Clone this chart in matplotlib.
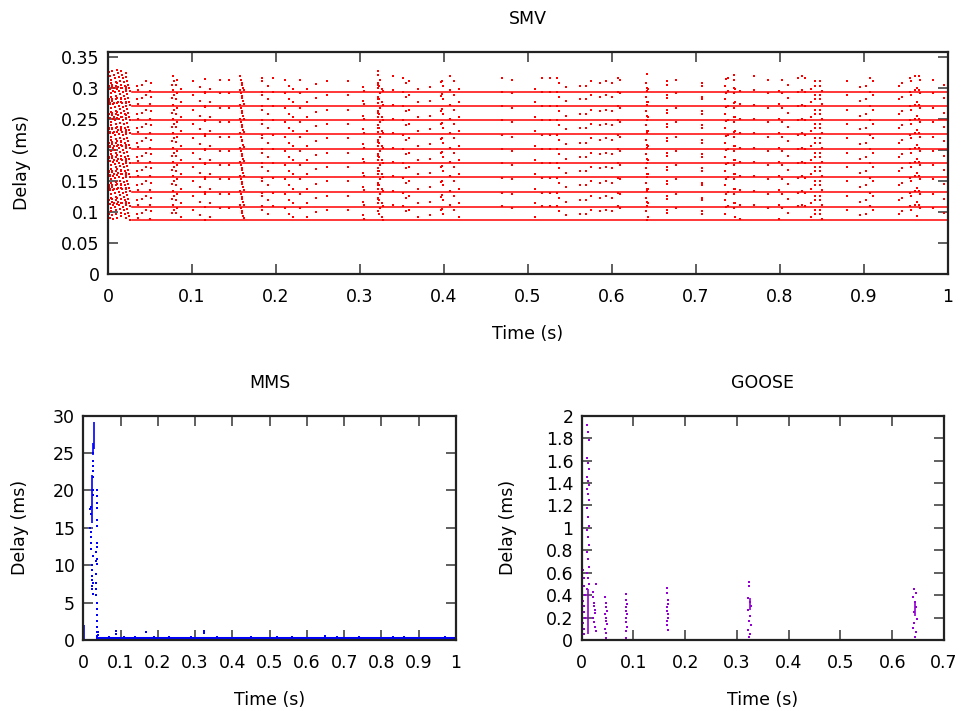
import matplotlib
matplotlib.use("Agg")
import matplotlib.pyplot as plt

plt.rcParams['font.family'] = ['DejaVu Sans']
plt.rcParams['font.size'] = 12.5

# ---- SMV: 10 streams, each with a base delay level ----
smv_levels = [0.087, 0.109, 0.133, 0.156, 0.179, 0.202, 0.226, 0.248, 0.272, 0.294]
smv_line_start = 0.028
smv_line_end = 1.0

# start-up burst, offsets above each stream level
smv_burst_t = [0.000, 0.000, 0.001, 0.002,
               0.001, 0.002, 0.003, 0.004, 0.005, 0.006,
               0.005, 0.007, 0.008, 0.009, 0.010, 0.011,
               0.011, 0.012, 0.013, 0.014, 0.015, 0.016,
               0.016, 0.017, 0.018, 0.019, 0.020, 0.021,
               0.021, 0.022, 0.023, 0.024, 0.025, 0.026]
smv_burst_dy = [0.005, 0.015, 0.010, 0.004,
                0.032, 0.026, 0.020, 0.014, 0.008, 0.002,
                0.034, 0.028, 0.022, 0.016, 0.010, 0.004,
                0.036, 0.030, 0.024, 0.018, 0.012, 0.006,
                0.034, 0.028, 0.022, 0.016, 0.010, 0.004,
                0.030, 0.024, 0.018, 0.012, 0.006, 0.001]

# later delay events, same pattern on every stream
smv_event_t = [0.034, 0.036, 0.041, 0.045, 0.051, 0.050, 0.077, 0.076, 0.079, 0.082,
               0.081, 0.087, 0.101, 0.110, 0.115, 0.116, 0.121, 0.133, 0.144, 0.157,
               0.158, 0.159, 0.160, 0.161, 0.162, 0.183, 0.183, 0.191, 0.197, 0.211,
               0.215, 0.220, 0.228, 0.237, 0.248, 0.261, 0.286, 0.304, 0.305, 0.322,
               0.322, 0.324, 0.321, 0.323, 0.326, 0.327, 0.339,
               0.351, 0.355, 0.358, 0.369, 0.383, 0.396, 0.397, 0.399, 0.407, 0.412,
               0.418, 0.469, 0.481, 0.508, 0.517, 0.526, 0.535, 0.537, 0.545, 0.562,
               0.569, 0.575, 0.586, 0.593, 0.600, 0.607, 0.609, 0.642, 0.641, 0.643,
               0.642, 0.666, 0.666, 0.676,
               0.707, 0.707, 0.734, 0.736, 0.738, 0.745, 0.745, 0.746, 0.752, 0.769,
               0.786, 0.799, 0.802, 0.809, 0.821, 0.826, 0.830, 0.837, 0.842, 0.842,
               0.847, 0.847, 0.850, 0.880, 0.895, 0.902, 0.907, 0.911, 0.942, 0.945,
               0.955, 0.956, 0.961, 0.963, 0.966, 0.967, 0.982, 0.995]
smv_event_dy = [0.010, 0.003, 0.012, 0.017, 0.0145, 0.002, 0.025, 0.012, 0.017, 0.020,
                0.011, 0.005, 0.017, 0.0075, 0.021, 0.000, 0.005, 0.020, 0.020, 0.025,
                0.020, 0.015, 0.012, 0.007, 0.003, 0.0225, 0.017, 0.010, 0.0225, 0.020,
                0.010, 0.005, 0.020, 0.005, 0.013, 0.017, 0.017, 0.0075, 0.002, 0.034,
                0.028, 0.020, 0.0145, 0.010, 0.005, 0.001, 0.025,
                0.0225, 0.0145, 0.017, 0.005, 0.0075, 0.016, 0.018, 0.010, 0.025, 0.017,
                0.005, 0.0225, 0.020, 0.005, 0.0225, 0.0225, 0.0225, 0.0145, 0.0075, 0.010,
                0.010, 0.017, 0.0145, 0.017, 0.0145, 0.0225, 0.020, 0.029, 0.0145, 0.005,
                0.001, 0.017, 0.012, 0.020,
                0.0145, 0.010, 0.010, 0.021, 0.023, 0.028, 0.020, 0.005, 0.002, 0.025,
                0.020, 0.002, 0.020, 0.012, 0.0225, 0.025, 0.0225, 0.005, 0.017, 0.010,
                0.017, 0.010, 0.002, 0.017, 0.0075, 0.010, 0.0225, 0.017, 0.010, 0.0145,
                0.0225, 0.017, 0.025, 0.0065, 0.025, 0.020, 0.020, 0.012]

# ---- MMS ----
mms_seg_t = [0.0295, 0.027, 0.024, 0.002]
mms_seg_lo = [25.6, 24.8, 15.6, 0.0]
mms_seg_hi = [29.1, 26.3, 22.0, 2.0]
mms_dot_t = [0.027, 0.027, 0.027, 0.027, 0.027, 0.027, 0.027,
             0.020, 0.020, 0.020, 0.020, 0.020, 0.020, 0.018, 0.018,
             0.036, 0.036, 0.036, 0.036, 0.036, 0.036, 0.036, 0.036, 0.036, 0.036,
             0.022, 0.022, 0.022, 0.022, 0.022, 0.022, 0.025, 0.025, 0.025,
             0.034, 0.034, 0.034, 0.034, 0.034, 0.034,
             0.036, 0.036, 0.036, 0.036, 0.036, 0.036, 0.036,
             0.040, 0.040, 0.089, 0.089, 0.167, 0.323, 0.323, 0.648,
             0.07, 0.11, 0.14, 0.19, 0.23, 0.29, 0.36, 0.45, 0.52, 0.56, 0.68, 0.74,
             0.83, 0.86, 0.97]
mms_dot_y = [25.0, 24.0, 23.2, 22.6, 21.8, 20.0, 19.4,
             17.8, 16.9, 14.5, 13.8, 13.0, 12.2, 17.5, 15.0,
             20.0, 19.2, 18.3, 17.6, 16.0, 15.2, 13.0, 12.5, 10.8, 10.2,
             10.0, 9.4, 8.6, 8.0, 7.2, 6.8, 11.2, 7.6, 6.2,
             11.7, 10.5, 8.8, 7.6, 6.8, 6.0,
             5.0, 4.2, 3.4, 2.6, 1.8, 1.0, 0.5,
             1.0, 0.6, 1.2, 0.8, 1.1, 1.2, 0.9, 0.5,
             0.45, 0.45, 0.4, 0.45, 0.4, 0.45, 0.4, 0.4, 0.4, 0.45, 0.4, 0.4,
             0.45, 0.4, 0.4]
mms_base_t = [0.036, 0.1, 0.2, 0.3, 0.4, 0.5, 0.6, 0.7, 0.8, 0.9, 1.0]
mms_base_y = [0.2, 0.2, 0.2, 0.2, 0.2, 0.2, 0.2, 0.2, 0.2, 0.2, 0.2]

# ---- GOOSE ----
goose_seg_t = [0.012, 0.325, 0.644]
goose_seg_lo = [0.05, 0.27, 0.21]
goose_seg_hi = [0.45, 0.37, 0.33]
goose_t = [0.011, 0.013, 0.015, 0.011, 0.013, 0.015, 0.011, 0.013, 0.015, 0.011,
           0.013, 0.015, 0.011, 0.013, 0.015, 0.011, 0.013, 0.015, 0.011, 0.013,
           0.015, 0.011, 0.013, 0.015, 0.011,
           0.003, 0.004, 0.005, 0.006, 0.003, 0.004, 0.005, 0.006, 0.003, 0.004, 0.005,
           0.021, 0.022, 0.023, 0.024, 0.025, 0.026, 0.027, 0.021, 0.023, 0.025, 0.027,
           0.045, 0.046, 0.047, 0.048, 0.045, 0.046, 0.047, 0.048, 0.045, 0.046, 0.047,
           0.085, 0.086, 0.087, 0.085, 0.086, 0.087, 0.085, 0.086, 0.087, 0.085, 0.086,
           0.164, 0.165, 0.166, 0.167, 0.164, 0.165, 0.166, 0.167, 0.164, 0.165, 0.166,
           0.323, 0.324, 0.321, 0.325, 0.327, 0.322, 0.326, 0.323, 0.328, 0.321, 0.325, 0.324,
           0.643, 0.645, 0.641, 0.644, 0.646, 0.642, 0.647, 0.643, 0.641, 0.645, 0.644]
goose_y = [1.92, 1.85, 1.78, 1.62, 1.58, 1.52, 1.45, 1.42, 1.38, 1.35,
           1.30, 1.25, 1.18, 1.10, 1.02, 0.98, 0.92, 0.85, 0.78, 0.72,
           0.65, 0.60, 0.55, 0.50, 0.45,
           0.62, 0.55, 0.48, 0.40, 0.35, 0.30, 0.25, 0.20, 0.15, 0.10, 0.05,
           0.43, 0.38, 0.33, 0.30, 0.27, 0.24, 0.50, 0.20, 0.16, 0.12, 0.08,
           0.38, 0.33, 0.29, 0.26, 0.23, 0.20, 0.17, 0.14, 0.10, 0.06, 0.02,
           0.41, 0.36, 0.32, 0.29, 0.26, 0.23, 0.20, 0.16, 0.12, 0.08, 0.02,
           0.46, 0.42, 0.36, 0.32, 0.29, 0.26, 0.23, 0.20, 0.17, 0.13, 0.09,
           0.52, 0.48, 0.37, 0.34, 0.30, 0.27, 0.21, 0.17, 0.13, 0.09, 0.05, 0.03,
           0.45, 0.42, 0.38, 0.34, 0.29, 0.25, 0.19, 0.15, 0.11, 0.07, 0.03]

SMV_COLOR = '#ff0000'
MMS_COLOR = '#0000ff'
GOOSE_COLOR = '#9400d3'
FRAME = '#222222'


def style_axes(ax, ylabelpad):
    # gnuplot look: inward ticks mirrored on all four sides
    for sp in ax.spines.values():
        sp.set_linewidth(1.6)
        sp.set_color(FRAME)
    ax.tick_params(direction='in', length=7.5, width=1.2, color='#444444',
                   top=True, right=True, labelsize=12.5)
    ax.tick_params(axis='x', pad=10)
    ax.tick_params(axis='y', pad=6)
    ax.set_xlabel("Time (s)", labelpad=14)
    ax.set_ylabel("Delay (ms)", labelpad=ylabelpad)


fig = plt.figure(figsize=(9.61, 7.11), dpi=100)

# SMV
ax1 = fig.add_axes([0.1124, 0.6146, 0.8741, 0.3127])
for lvl in smv_levels:
    ax1.plot([smv_line_start, smv_line_end], [lvl, lvl], color=SMV_COLOR, lw=1.1)
    ax1.plot(smv_burst_t, [lvl + d for d in smv_burst_dy], ls='none', marker='s',
             ms=1.6, mew=0, color=SMV_COLOR)
    ax1.plot(smv_event_t, [lvl + d for d in smv_event_dy], ls='none', marker='s',
             ms=1.6, mew=0, color=SMV_COLOR)
ax1.set_xlim(0, 1)
ax1.set_ylim(0, 0.359)
ax1.set_xticks([0, 0.1, 0.2, 0.3, 0.4, 0.5, 0.6, 0.7, 0.8, 0.9, 1])
ax1.set_xticklabels(['0', '0.1', '0.2', '0.3', '0.4', '0.5', '0.6', '0.7', '0.8', '0.9', '1'])
ax1.set_yticks([0, 0.05, 0.1, 0.15, 0.2, 0.25, 0.3, 0.35])
ax1.set_yticklabels(['0', '0.05', '0.1', '0.15', '0.2', '0.25', '0.3', '0.35'])
ax1.set_title("SMV", fontsize=12.5, pad=20)
style_axes(ax1, 22)

# MMS
ax2 = fig.add_axes([0.0867, 0.0999, 0.3878, 0.3155])
ax2.plot(mms_base_t, mms_base_y, color=MMS_COLOR, lw=2.2)
ax2.vlines(mms_seg_t, mms_seg_lo, mms_seg_hi, color=MMS_COLOR, lw=1.2)
ax2.plot(mms_dot_t, mms_dot_y, ls='none', marker='s', ms=1.6, mew=0, color=MMS_COLOR)
ax2.set_xlim(0, 1)
ax2.set_ylim(0, 30)
ax2.set_xticks([0, 0.1, 0.2, 0.3, 0.4, 0.5, 0.6, 0.7, 0.8, 0.9, 1])
ax2.set_xticklabels(['0', '0.1', '0.2', '0.3', '0.4', '0.5', '0.6', '0.7', '0.8', '0.9', '1'])
ax2.set_yticks([0, 5, 10, 15, 20, 25, 30])
ax2.set_title("MMS", fontsize=12.5, pad=20)
style_axes(ax2, 17)

# GOOSE
ax3 = fig.add_axes([0.6053, 0.0999, 0.3770, 0.3155])
ax3.vlines(goose_seg_t, goose_seg_lo, goose_seg_hi, color=GOOSE_COLOR, lw=1.2)
ax3.plot(goose_t, goose_y, ls='none', marker='s', ms=1.6, mew=0, color=GOOSE_COLOR)
ax3.set_xlim(0, 0.7)
ax3.set_ylim(0, 2)
ax3.set_xticks([0, 0.1, 0.2, 0.3, 0.4, 0.5, 0.6, 0.7])
ax3.set_xticklabels(['0', '0.1', '0.2', '0.3', '0.4', '0.5', '0.6', '0.7'])
ax3.set_yticks([0, 0.2, 0.4, 0.6, 0.8, 1.0, 1.2, 1.4, 1.6, 1.8, 2.0])
ax3.set_yticklabels(['0', '0.2', '0.4', '0.6', '0.8', '1', '1.2', '1.4', '1.6', '1.8', '2'])
ax3.set_title("GOOSE", fontsize=12.5, pad=20)
style_axes(ax3, 21)

fig.savefig("out.png", dpi=100)
